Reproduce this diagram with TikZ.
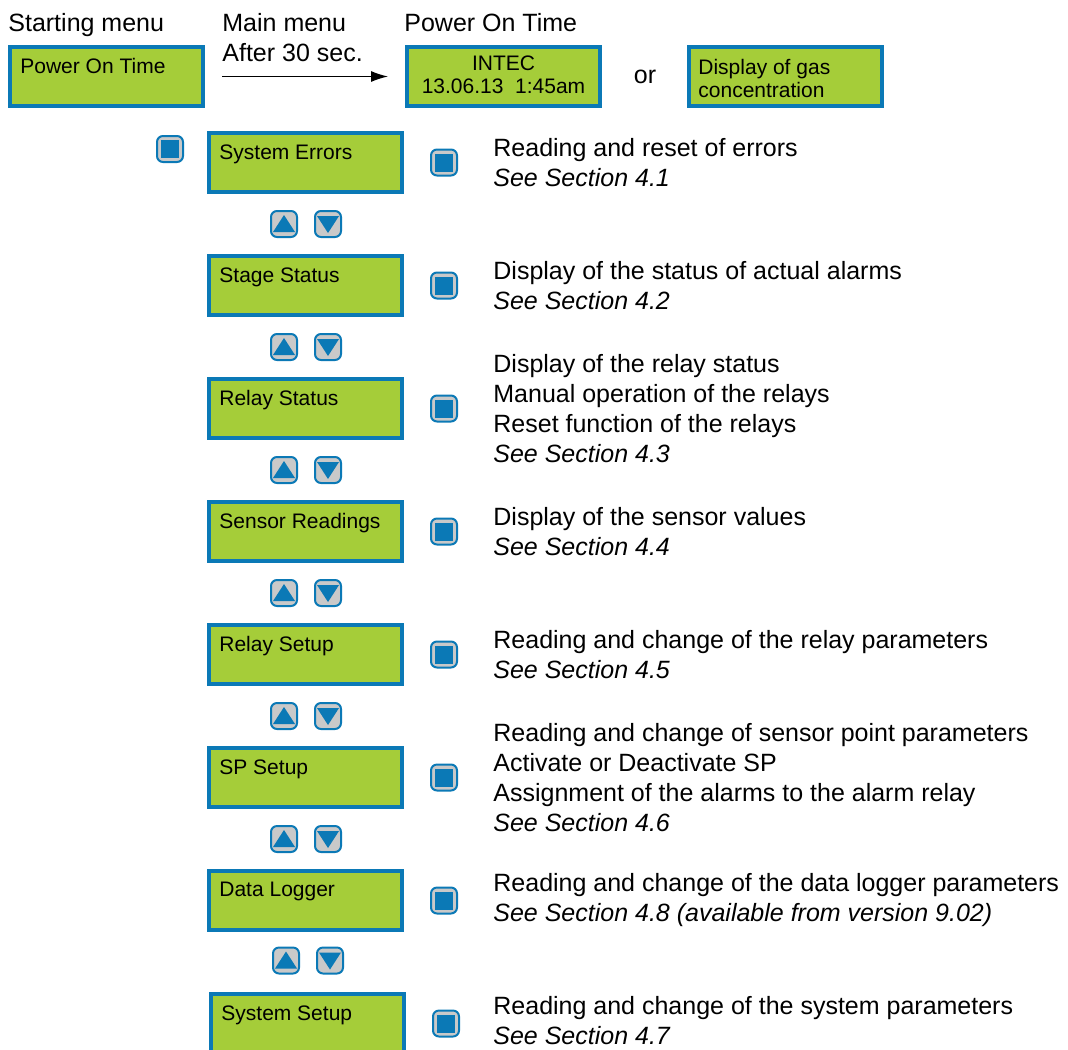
\documentclass[tikz,border=0pt]{standalone}
\usepackage{fontspec}
\setmainfont{Liberation Sans}
\usetikzlibrary{positioning,arrows.meta}

\definecolor{lcdgreen}{HTML}{A5CD39}
\definecolor{lcdblue}{HTML}{0B79B6}
\definecolor{keygray}{HTML}{C9C9C9}

\begin{document}
\begin{tikzpicture}[x=0.5pt,y=-0.5pt,node distance=61.5pt,on grid,
   lcd/.style={draw=lcdblue,fill=lcdgreen,line width=2pt,minimum width=96.5pt,minimum height=29.5pt,inner sep=0pt},
   lcdfont/.style={inner sep=0pt,align=left,font=\fontsize{10.5}{11.5}\selectfont},
   lcdtext/.style={lcdfont,anchor=north west,xshift=6pt,yshift=-6.5pt},
   key/.style={draw=lcdblue,fill=keygray,line width=1pt,rounded corners=3pt,minimum size=13pt,inner sep=0pt},
   keyenter/.style={key,path picture={\fill[lcdblue,sharp corners] ([shift={(-4.5pt,-4.5pt)}]path picture bounding box.center) rectangle ++(9pt,9pt);}},
   keyup/.style={key,path picture={\fill[lcdblue,sharp corners] ([shift={(-5.5pt,-4pt)}]path picture bounding box.center) -- ([shift={(5.5pt,-4pt)}]path picture bounding box.center) -- ([shift={(0pt,4.5pt)}]path picture bounding box.center) -- cycle;}},
   keydown/.style={key,path picture={\fill[lcdblue,sharp corners] ([shift={(-5.5pt,4pt)}]path picture bounding box.center) -- ([shift={(5.5pt,4pt)}]path picture bounding box.center) -- ([shift={(0pt,-4.5pt)}]path picture bounding box.center) -- cycle;}},
   head/.style={anchor=north west,align=left,inner sep=0pt,font=\fontsize{12.5}{15}\selectfont},
   desc/.style={anchor=west,align=left,inner sep=0pt,font=\fontsize{12.5}{15}\selectfont}]
   \useasboundingbox (0,0) rectangle (1068,1049);

   % top row
   \node[head] (hstart) at (8,13) {Starting menu};
   \node[head] (hmain) at (222,13) {Main menu\\After 30 sec.};
   \node[head] (hpower) at (404,13) {Power On Time};
   \node[lcd,label={[lcdtext]north west:Power On Time}] (start) at (106.5,76.5) {};
   \node[lcd,label={[lcdfont,anchor=north,yshift=-5.25pt,align=center]north:{INTEC\\13.06.13~~1:45am}}] (intec) [right=198.5pt of start] {};
   \node[font=\fontsize{12.5}{15}\selectfont,inner sep=0pt] (or) [right=70.75pt of intec] {or};
   \node[lcd,label={[lcdtext,xshift=-0.5pt,yshift=-0.5pt]north west:{Display of gas\\concentration}}] (gas) [right=141pt of intec] {};
   \path[-{Latex[length=8.5pt,width=5.5pt]},line width=0.6pt,shorten <=8.5pt,shorten >=8.5pt]
   (start) edge (intec);

   % main menu
   \node[lcd,label={[lcdtext]north west:System Errors}] (se) at (305.5,162.5) {};
   \node[lcd,label={[lcdtext]north west:Stage Status}] (st) [below=of se] {};
   \node[lcd,label={[lcdtext]north west:Relay Status}] (rs) [below=of st] {};
   \node[lcd,label={[lcdtext]north west:Sensor Readings}] (sr) [below=of rs] {};
   \node[lcd,label={[lcdtext]north west:Relay Setup}] (ru) [below=of sr] {};
   \node[lcd,label={[lcdtext]north west:SP Setup}] (sp) [below=of ru] {};
   \node[lcd,label={[lcdtext]north west:Data Logger}] (dl) [below=of sp] {};
   \node[lcd,label={[lcdtext]north west:System Setup}] (sy) [below=of dl,xshift=1pt] {};

   \node[keyenter] (kmenu) [above left=6.75pt and 67.75pt of se] {};

   % enter keys
   \node[keyenter] (kse) [right=69.25pt of se] {};
   \node[keyenter] (kst) [right=69.25pt of st] {};
   \node[keyenter] (krs) [right=69.25pt of rs] {};
   \node[keyenter] (ksr) [right=69.25pt of sr] {};
   \node[keyenter] (kru) [right=69.25pt of ru] {};
   \node[keyenter] (ksp) [right=69.25pt of sp] {};
   \node[keyenter] (kdl) [right=69.25pt of dl] {};
   \node[keyenter] (ksy) [right=69.25pt of sy] {};

   % up and down keys
   \node[keyup] (use) [below left=30.75pt and 10.75pt of se] {};
   \node[keydown] (dse) [below right=30.75pt and 11.25pt of se] {};
   \node[keyup] (ust) [below left=30.75pt and 10.75pt of st] {};
   \node[keydown] (dst) [below right=30.75pt and 11.25pt of st] {};
   \node[keyup] (urs) [below left=30.75pt and 10.75pt of rs] {};
   \node[keydown] (drs) [below right=30.75pt and 11.25pt of rs] {};
   \node[keyup] (usr) [below left=30.75pt and 10.75pt of sr] {};
   \node[keydown] (dsr) [below right=30.75pt and 11.25pt of sr] {};
   \node[keyup] (uru) [below left=30.75pt and 10.75pt of ru] {};
   \node[keydown] (dru) [below right=30.75pt and 11.25pt of ru] {};
   \node[keyup] (usp) [below left=30.75pt and 10.75pt of sp] {};
   \node[keydown] (dsp) [below right=30.75pt and 11.25pt of sp] {};
   \node[keyup] (udl) [below left=30pt and 9.75pt of dl] {};
   \node[keydown] (ddl) [below right=30pt and 12.25pt of dl] {};

   % descriptions
   \node[desc] (tse) at ([xshift=17.5pt]kse.east) {Reading and reset of errors\\\textit{See Section 4.1}};
   \node[desc] (tst) at ([xshift=17.5pt]kst.east) {Display of the status of actual alarms\\\textit{See Section 4.2}};
   \node[desc] (trs) at ([xshift=17.5pt]krs.east) {Display of the relay status\\Manual operation of the relays\\Reset function of the relays\\\textit{See Section 4.3}};
   \node[desc] (tsr) at ([xshift=17.5pt]ksr.east) {Display of the sensor values\\\textit{See Section 4.4}};
   \node[desc] (tru) at ([xshift=17.5pt]kru.east) {Reading and change of the relay parameters\\\textit{See Section 4.5}};
   \node[desc] (tsp) at ([xshift=17.5pt]ksp.east) {Reading and change of sensor point parameters\\Activate or Deactivate SP\\Assignment of the alarms to the alarm relay\\\textit{See Section 4.6}};
   \node[desc] (tdl) at ([xshift=17.5pt]kdl.east) {Reading and change of the data logger parameters\\\textit{See Section 4.8 (available from version 9.02)}};
   \node[desc] (tsy) at ([xshift=16.5pt,yshift=1.5pt]ksy.east) {Reading and change of the system parameters\\\textit{See Section 4.7}};
\end{tikzpicture}
\end{document}
